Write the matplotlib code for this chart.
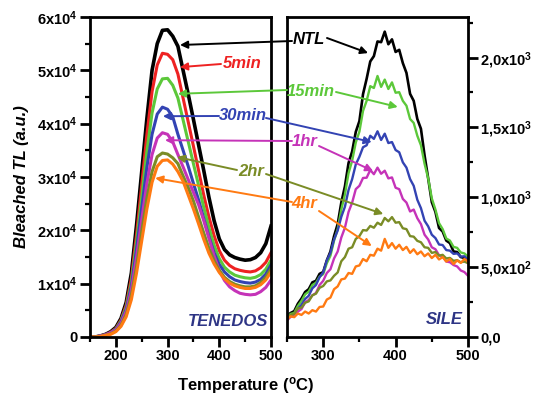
import matplotlib
matplotlib.use('Agg')
import matplotlib.pyplot as plt
from matplotlib.patches import ConnectionPatch
from matplotlib.ticker import MultipleLocator, FixedLocator
import numpy as np

plt.rcParams['font.family'] = ['Liberation Sans', 'DejaVu Sans']
plt.rcParams['mathtext.fontset'] = 'custom'
plt.rcParams['mathtext.rm'] = 'Liberation Sans:bold'
plt.rcParams['mathtext.bf'] = 'Liberation Sans:bold'
plt.rcParams['mathtext.it'] = 'Liberation Sans:bold:italic'
plt.rcParams['mathtext.default'] = 'bf'

# ---------------- data ----------------
series_names = ['NTL', '5min', '15min', '30min', '1hr', '2hr', '4hr']
colors = {'NTL': '#000000', '5min': '#ee2222', '15min': '#5cc83a',
          '30min': '#3343b3', '1hr': '#c533b8', '2hr': '#7a8c26', '4hr': '#ff7a12'}

# TENEDOS panel (values in units of 1e4)
temp_ten = np.arange(150, 501, 10)
ten_ntl = [0.00, 0.00, 0.02, 0.05, 0.10, 0.18, 0.35, 0.65, 1.20, 2.10,
           3.10, 4.10, 5.00, 5.50, 5.75, 5.76, 5.64, 5.45, 5.00, 4.55,
           4.08, 3.60, 3.12, 2.62, 2.18, 1.84, 1.64, 1.54, 1.49, 1.46,
           1.44, 1.45, 1.49, 1.58, 1.75, 2.08]
ten_5min = [0, 0, 0.02, 0.04, 0.09, 0.16, 0.32, 0.60, 1.10, 1.92,
            2.85, 3.80, 4.60, 5.10, 5.32, 5.30, 5.20, 4.93, 4.48, 4.03,
            3.58, 3.12, 2.66, 2.25, 1.90, 1.62, 1.44, 1.34, 1.28, 1.25,
            1.23, 1.22, 1.24, 1.30, 1.40, 1.58]
ten_15min = [0, 0, 0.02, 0.04, 0.08, 0.15, 0.30, 0.56, 1.02, 1.78,
             2.62, 3.48, 4.20, 4.65, 4.84, 4.85, 4.72, 4.48, 4.07, 3.66,
             3.25, 2.84, 2.43, 2.05, 1.72, 1.47, 1.31, 1.22, 1.16, 1.13,
             1.11, 1.10, 1.12, 1.17, 1.27, 1.44]
ten_30min = [0, 0, 0.02, 0.04, 0.08, 0.14, 0.28, 0.52, 0.95, 1.65,
             2.42, 3.18, 3.80, 4.18, 4.31, 4.27, 4.13, 3.80, 3.50, 3.20,
             2.88, 2.57, 2.22, 1.88, 1.58, 1.36, 1.22, 1.13, 1.07, 1.04,
             1.02, 1.01, 1.03, 1.08, 1.18, 1.35]
ten_1hr = [0, 0, 0.02, 0.04, 0.08, 0.13, 0.26, 0.48, 0.88, 1.50,
           2.20, 2.88, 3.42, 3.73, 3.83, 3.80, 3.66, 3.42, 3.19, 2.95,
           2.71, 2.48, 2.18, 1.85, 1.52, 1.25, 1.06, 0.94, 0.87, 0.82,
           0.80, 0.79, 0.80, 0.85, 0.93, 1.07]
ten_2hr = [0, 0, 0.01, 0.03, 0.06, 0.11, 0.22, 0.42, 0.78, 1.32,
           1.98, 2.60, 3.10, 3.38, 3.45, 3.43, 3.36, 3.25, 3.02, 2.80,
           2.55, 2.25, 1.95, 1.66, 1.43, 1.25, 1.12, 1.04, 0.99, 0.96,
           0.94, 0.94, 0.96, 1.02, 1.12, 1.28]
ten_4hr = [0, 0, 0.01, 0.03, 0.05, 0.10, 0.20, 0.38, 0.70, 1.20,
           1.80, 2.40, 2.90, 3.20, 3.31, 3.32, 3.24, 3.10, 2.92, 2.66,
           2.40, 2.12, 1.83, 1.57, 1.37, 1.21, 1.09, 1.01, 0.96, 0.93,
           0.91, 0.91, 0.93, 0.98, 1.07, 1.22]

# SILE panel (a.u.)
temp_sile = np.arange(250, 501, 5)
sile_ntl = [150, 172, 185, 238, 275, 322, 342, 391, 402, 452,
            465, 548, 612, 722, 808, 962, 1078, 1245, 1328, 1468,
            1545, 1738, 1848, 1972, 2010, 2115, 2110, 2185, 2095, 2130,
            2040, 2055, 1960, 1890, 1740, 1690, 1560, 1490, 1300, 1135,
            965, 895, 780, 755, 690, 672, 612, 608, 572, 566, 548]
sile_15min = [138, 165, 172, 222, 258, 305, 325, 372, 388, 432,
              450, 528, 582, 690, 772, 912, 1020, 1172, 1262, 1392,
              1470, 1618, 1690, 1795, 1782, 1868, 1790, 1842, 1775, 1822,
              1748, 1752, 1690, 1655, 1560, 1532, 1440, 1372, 1240, 1135,
              992, 912, 815, 772, 705, 690, 645, 638, 605, 598, 575]
sile_30min = [128, 155, 160, 202, 230, 272, 295, 348, 372, 428,
              462, 548, 602, 698, 762, 860, 932, 1052, 1130, 1235,
              1290, 1358, 1372, 1440, 1418, 1472, 1410, 1455, 1388, 1395,
              1338, 1322, 1250, 1212, 1130, 1082, 982, 922, 832, 792,
              732, 708, 662, 658, 622, 618, 595, 598, 575, 578, 555]
sile_1hr = [118, 145, 148, 182, 200, 248, 265, 298, 315, 372,
            402, 458, 485, 562, 612, 712, 782, 895, 962, 1058,
            1082, 1138, 1140, 1195, 1165, 1212, 1168, 1190, 1135, 1142,
            1068, 1058, 988, 962, 898, 912, 850, 808, 732, 698,
            642, 628, 585, 578, 540, 535, 515, 505, 476, 465, 438]
sile_2hr = [128, 158, 165, 205, 210, 245, 255, 298, 310, 352,
            365, 398, 405, 438, 462, 542, 572, 632, 642, 702,
            722, 765, 762, 795, 782, 818, 802, 852, 828, 858,
            818, 822, 778, 772, 722, 718, 688, 678, 642, 638,
            602, 608, 582, 588, 562, 566, 545, 550, 535, 540, 528]
sile_4hr = [128, 148, 142, 168, 158, 182, 168, 192, 182, 215,
            218, 268, 282, 342, 362, 412, 418, 458, 452, 505,
            512, 558, 542, 588, 582, 632, 618, 702, 638, 672,
            632, 660, 622, 645, 602, 628, 592, 612, 578, 598,
            565, 588, 555, 572, 540, 558, 522, 548, 530, 558, 540]

ten_data = {'NTL': ten_ntl, '5min': ten_5min, '15min': ten_15min, '30min': ten_30min,
            '1hr': ten_1hr, '2hr': ten_2hr, '4hr': ten_4hr}
sile_data = {'NTL': sile_ntl, '15min': sile_15min, '30min': sile_30min,
             '1hr': sile_1hr, '2hr': sile_2hr, '4hr': sile_4hr}

left_yticks = [0, 1e4, 2e4, 3e4, 4e4, 5e4, 6e4]
left_yticklabels = ['0', '1x10$^4$', '2x10$^4$', '3x10$^4$', '4x10$^4$', '5x10$^4$', '6x10$^4$']
right_yticks = [0, 500, 1000, 1500, 2000]
right_yticklabels = ['0,0', '5,0x10$^2$', '1,0x10$^3$', '1,5x10$^3$', '2,0x10$^3$']

# label: (text position px, color, [(start px, axis, target (T, value))...])
annotations = [
    ('NTL', (309, 366), [((292, 364), 'L', (324, 5.475e4)), ((327, 367), 'R', (362, 2032))]),
    ('5min', (242, 341), [((221, 341), 'L', (324, 5.06e4))]),
    ('15min', (311, 314), [((287, 315), 'L', (320, 4.56e4)), ((336, 313), 'R', (403, 1646))]),
    ('30min', (243, 289), [((219, 289), 'L', (291, 4.14e4)), ((266, 287), 'R', (367, 1395))]),
    ('1hr', (305, 264), [((292, 264), 'L', (295, 3.69e4)), ((319, 259), 'R', (369, 1188))]),
    ('2hr', (251, 234), [((237, 235), 'L', (318, 3.375e4)), ((266, 231), 'R', (383, 880))]),
    ('4hr', (304, 201), [((292, 203), 'L', (276, 2.98e4)), ((319, 194), 'R', (367, 651))]),
]

# ---------------- figure ----------------
W, H = 536, 405
fig = plt.figure(figsize=(W / 100, H / 100), dpi=100)
axL = fig.add_axes([90 / W, 68 / H, 181 / W, 320 / H])
axR = fig.add_axes([287 / W, 68 / H, 181 / W, 320 / H])

for name in series_names:
    axL.plot(temp_ten, np.array(ten_data[name]) * 1e4, color=colors[name],
             lw=2.6 if name == 'NTL' else 2.2, solid_joinstyle='round')
for name in ['NTL', '15min', '30min', '1hr', '2hr', '4hr']:
    axR.plot(temp_sile, sile_data[name], color=colors[name], lw=1.9 if name == 'NTL' else 1.7)

axL.set_xlim(150, 500)
axL.set_ylim(0, 6e4)
axR.set_xlim(250, 500)
axR.set_ylim(0, 2290)

for ax in (axL, axR):
    for sp in ax.spines.values():
        sp.set_linewidth(2.0)
    ax.tick_params(which='major', direction='out', length=7, width=2, labelsize=10.5, pad=2)
    ax.tick_params(which='minor', direction='out', length=3.5, width=1.6)
    ax.tick_params(axis='x', which='both', top=False)
    for lab in ax.get_xticklabels() + ax.get_yticklabels():
        lab.set_fontweight('bold')

axL.xaxis.set_major_locator(FixedLocator([200, 300, 400, 500]))
axL.xaxis.set_minor_locator(FixedLocator([150, 250, 350, 450]))
axL.yaxis.set_major_locator(FixedLocator(left_yticks))
axL.yaxis.set_minor_locator(MultipleLocator(5000))
axL.set_yticklabels(left_yticklabels, fontweight='bold', fontsize=10.5)
axL.set_xticklabels(['200', '300', '400', '500'], fontweight='bold', fontsize=10.5)
axL.tick_params(axis='y', which='both', right=False)

axR.yaxis.tick_right()
axR.tick_params(axis='y', which='both', left=False)
axR.xaxis.set_major_locator(FixedLocator([300, 400, 500]))
axR.xaxis.set_minor_locator(FixedLocator([250, 350, 450]))
axR.yaxis.set_major_locator(FixedLocator(right_yticks))
axR.yaxis.set_minor_locator(MultipleLocator(250))
axR.set_yticklabels(right_yticklabels, fontweight='bold', fontsize=10.5)
axR.set_xticklabels(['300', '400', '500'], fontweight='bold', fontsize=10.5)

axL.text(0.76, 0.05, 'TENEDOS', transform=axL.transAxes, ha='center', va='center',
         fontsize=12, fontweight='bold', style='italic', color='#2e3585')
axR.text(0.87, 0.055, 'SILE', transform=axR.transAxes, ha='center', va='center',
         fontsize=12, fontweight='bold', style='italic', color='#2e3585')

fig.text(22 / W, 228 / H, 'Bleached TL (a.u.)', rotation=90, ha='center', va='center',
         fontsize=12, fontweight='bold', style='italic')
fig.text(246 / W, 19 / H, 'Temperature ($^o$C)', ha='center', va='center',
         fontsize=12, fontweight='bold')

axes_map = {'L': axL, 'R': axR}
for name, tpos, arrows in annotations:
    c = colors[name]
    fig.text(tpos[0] / W, tpos[1] / H, name, ha='center', va='center', fontsize=12,
             fontweight='bold', style='italic', color=c, zorder=5)
    for start, axk, target in arrows:
        cp = ConnectionPatch(xyA=start, coordsA='figure pixels', xyB=target, coordsB='data',
                             axesB=axes_map[axk], arrowstyle='-|>', mutation_scale=11,
                             lw=1.4, color=c, shrinkA=0, shrinkB=0, zorder=4)
        cp.set_clip_on(False)
        fig.add_artist(cp)

fig.savefig('out.png', dpi=100)
